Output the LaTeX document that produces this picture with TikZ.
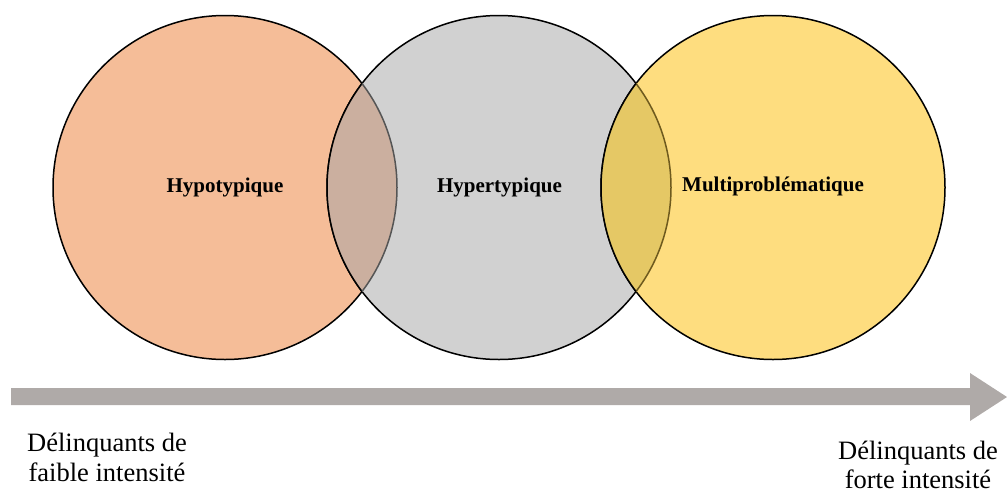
\documentclass[tikz,border=0pt]{standalone}
\usepackage{fontspec}
\setmainfont{Liberation Serif}
\definecolor{orangefill}{HTML}{F5BD98}
\definecolor{grayfill}{HTML}{D1D1D1}
\definecolor{yellowfill}{HTML}{FEDD7F}
\definecolor{lensL}{HTML}{CBAF9F}
\definecolor{lensR}{HTML}{E5C865}
\definecolor{edgeL}{HTML}{555555}
\definecolor{edgeR}{HTML}{6E5A1E}
\definecolor{arrowgray}{HTML}{AFAAA8}
\tikzset{
  setlabel/.style={font=\fontsize{21}{25}\selectfont\bfseries, text=black},
  endlabel/.style={font=\fontsize{26.5}{29.5}\selectfont, align=center, text=black},
  rim/.style={line width=1.5pt}
}
\begin{document}
\begin{tikzpicture}[x=1pt,y=-1pt]
\useasboundingbox (0,0) rectangle (1007,491);
\def\R{172pt}
\coordinate (cL) at (225,187.5);
\coordinate (cM) at (499,187.5);
\coordinate (cR) at (773,187.5);
% left circle
\fill[orangefill] (cL) circle (\R);
\draw[rim,black] (cL) circle (\R);
% middle circle
\fill[grayfill] (cM) circle (\R);
\draw[rim,black] (cM) circle (\R);
% left lens
\begin{scope}
  \clip (cL) circle (\R);
  \fill[lensL] (cM) circle (\R);
  \draw[rim,black] (cM) circle (\R);
\end{scope}
\begin{scope}
  \clip (cM) circle (\R);
  \draw[rim,edgeL] (cL) circle (\R);
\end{scope}
% right circle
\fill[yellowfill] (cR) circle (\R);
\draw[rim,black] (cR) circle (\R);
% right lens
\begin{scope}
  \clip (cR) circle (\R);
  \fill[lensR] (cM) circle (\R);
  \draw[rim,edgeR] (cM) circle (\R);
\end{scope}
\begin{scope}
  \clip (cM) circle (\R);
  \draw[rim,black] (cR) circle (\R);
\end{scope}
% labels
\node[setlabel] (hypo) at (225,187.5) {Hypotypique};
\node[setlabel] (hyper) at (499.5,187.5) {Hypertypique};
\node[setlabel] (multi) at (773,186.5) {Multiproblématique};
% arrow
\fill[arrowgray] (11,388) -- (970,388) -- (970,373) -- (1007,397) -- (970,421) -- (970,405) -- (11,405) -- cycle;
% end labels
\node[endlabel] (low) at (107,457.5) {Délinquants de\\faible intensité};
\node[endlabel] (high) at (918,465) {Délinquants de\\forte intensité};
\end{tikzpicture}
\end{document}
